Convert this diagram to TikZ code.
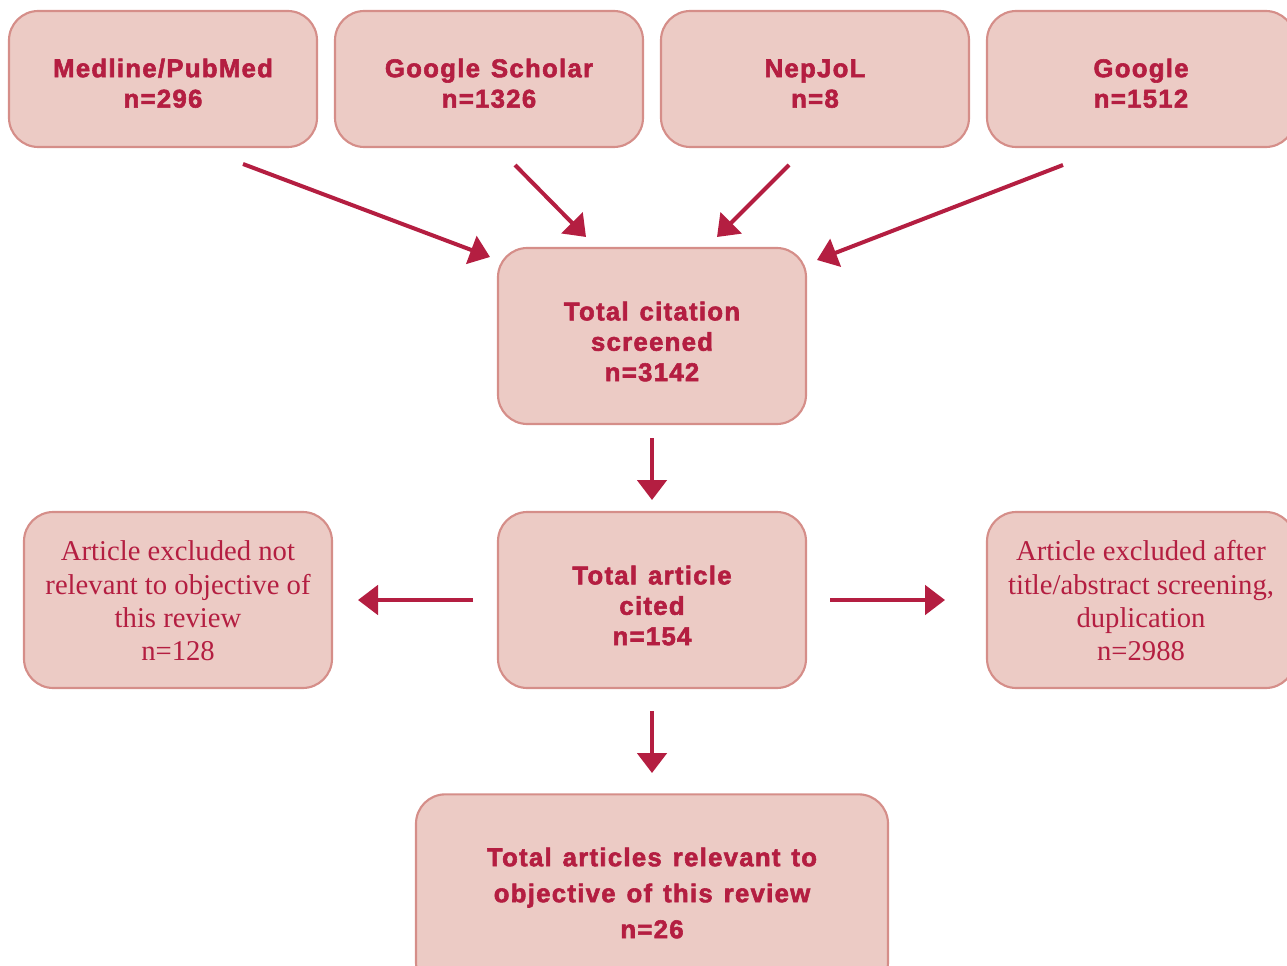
\documentclass[tikz,border=0pt]{standalone}
\usepackage{fontspec}
\setmainfont{Liberation Serif}
\newfontfamily\heavysans[LetterSpace=5,FakeBold=2.2,WordSpace=1.3]{Liberation Sans}
\usetikzlibrary{arrows.meta}
\definecolor{boxfill}{HTML}{ECCBC5}
\definecolor{boxline}{HTML}{D58E89}
\definecolor{crim}{HTML}{B41E41}
\newcommand{\downby}[2]{\raisebox{-#1}[\height][\depth]{#2}}
\tikzset{
  box/.style={draw=boxline, line width=1.6pt, fill=boxfill, rounded corners=22pt,
    minimum width=231pt, minimum height=102pt, inner sep=0pt, align=center,
    text=crim},
  boldtxt/.style={font=\heavysans\bfseries\fontsize{19.3}{22.8}\selectfont},
  serftxt/.style={font=\fontsize{21.5}{25}\selectfont},
  flow/.style={draw=crim, line width=3pt, -{Triangle[length=15pt,width=22pt]}},
}
\begin{document}
\begin{tikzpicture}[x=0.75pt,y=-0.75pt]
\useasboundingbox (0,0) rectangle (1287,966);
\clip (0,0) rectangle (1287,966);
% source boxes
\node[box, boldtxt] (med) at (163,79) {\downby{5.5pt}{\begin{tabular}{@{}c@{}}Medline/PubMed\\n=296\end{tabular}}};
\node[box, boldtxt] (gs) at (489,79) {\downby{5.5pt}{\begin{tabular}{@{}c@{}}Google Scholar\\n=1326\end{tabular}}};
\node[box, boldtxt] (nep) at (815,79) {\downby{5.5pt}{\begin{tabular}{@{}c@{}}NepJoL\\n=8\end{tabular}}};
\node[box, boldtxt] (goo) at (1141,79) {\downby{5.5pt}{\begin{tabular}{@{}c@{}}Google\\n=1512\end{tabular}}};
% screened
\node[box, boldtxt, minimum height=132pt] (tcs) at (652,336) {\downby{6.5pt}{\begin{tabular}{@{}c@{}}Total citation\\screened\\n=3142\end{tabular}}};
% cited
\node[box, boldtxt, minimum height=132pt] (tac) at (652,600) {\downby{6.5pt}{\begin{tabular}{@{}c@{}}Total article\\cited\\n=154\end{tabular}}};
\node[box, serftxt, minimum height=132pt] (exl) at (178,600) {\downby{3pt}{\begin{tabular}{@{}c@{}}Article excluded not\\relevant to objective of\\this review\\n=128\end{tabular}}};
\node[box, serftxt, minimum height=132pt] (exr) at (1141,600) {\downby{3pt}{\begin{tabular}{@{}c@{}}Article excluded after\\title/abstract screening,\\duplication\\n=2988\end{tabular}}};
% final
\node[box, boldtxt, minimum width=354pt, minimum height=148pt] (fin) at (652,893) {\fontsize{19.3}{27}\selectfont\downby{1.5pt}{\begin{tabular}{@{}c@{}}Total articles relevant to\\objective of this review\\n=26\end{tabular}}};
% arrow end coordinates
\coordinate (a1s) at (243,164); \coordinate (a1e) at (490,257);
\coordinate (a2s) at (515,165); \coordinate (a2e) at (586,237);
\coordinate (a3s) at (789,165); \coordinate (a3e) at (717,237);
\coordinate (a4s) at (1063,165); \coordinate (a4e) at (817,260);
\coordinate (a5s) at (652,438); \coordinate (a5e) at (652,500);
\coordinate (a6s) at (473,600); \coordinate (a6e) at (358,600);
\coordinate (a7s) at (830,600); \coordinate (a7e) at (945,600);
\coordinate (a8s) at (652,711); \coordinate (a8e) at (652,773);
\draw[flow] (a1s) -- (a1e);
\draw[flow] (a2s) -- (a2e);
\draw[flow] (a3s) -- (a3e);
\draw[flow] (a4s) -- (a4e);
\draw[flow] (a5s) -- (a5e);
\draw[flow] (a6s) -- (a6e);
\draw[flow] (a7s) -- (a7e);
\draw[flow] (a8s) -- (a8e);
\end{tikzpicture}
\end{document}
